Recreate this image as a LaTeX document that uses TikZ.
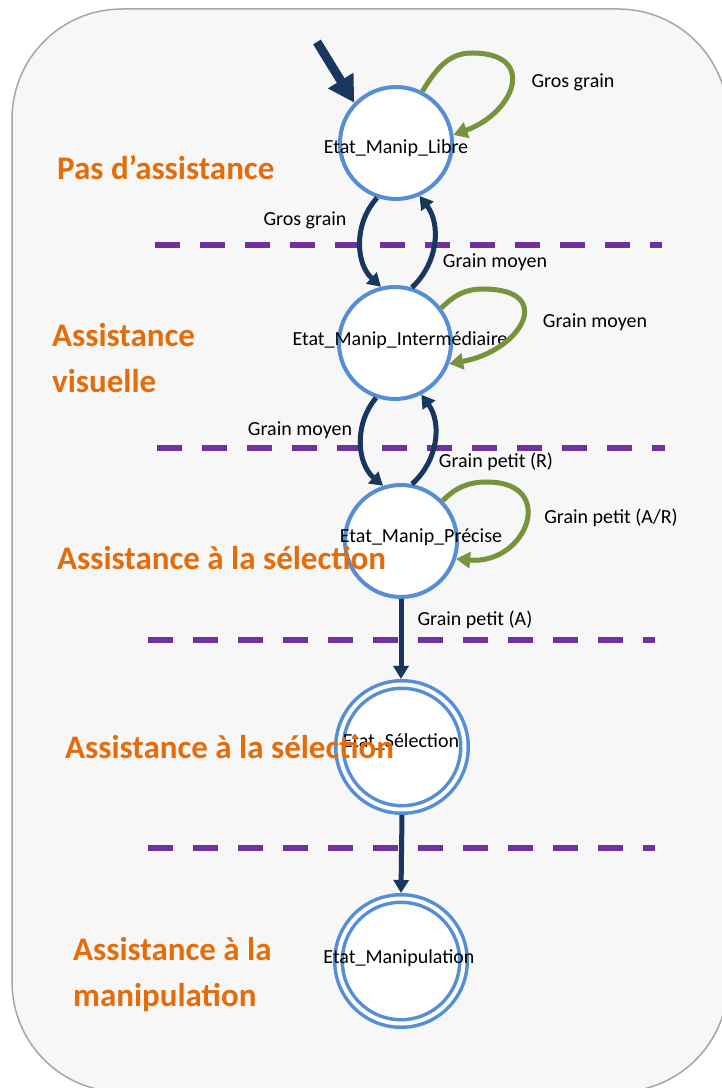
\documentclass[tikz,border=0pt]{standalone}
\usepackage{fontspec}
\setmainfont{Carlito}
\usetikzlibrary{arrows.meta}
\definecolor{fond}{HTML}{F7F7F7}
\definecolor{bordfond}{HTML}{A6A6A6}
\definecolor{bordetat}{HTML}{558ED5}
\definecolor{marine}{HTML}{17375E}
\definecolor{vert}{HTML}{77933C}
\definecolor{violet}{HTML}{7030A0}
\definecolor{orange}{HTML}{E46C0A}
\tikzset{
  etat/.style={circle,draw=bordetat,line width=4pt,fill=white,minimum size=112pt,inner sep=0pt},
  etatfinal/.style={etat,line width=3.5pt,double=white,double distance=4pt,minimum size=125pt,outer sep=5.5pt},
  trans/.style={draw=marine,line width=5pt,-{Triangle[length=13pt,width=15pt]}},
  initiale/.style={draw=marine,line width=9pt,-{Triangle[length=26pt,width=28pt]}},
  boucle/.style={draw=vert,line width=5pt,-{Triangle[length=14pt,width=16pt]}},
  niveau/.style={draw=violet,line width=6pt,dash pattern=on 25pt off 20pt},
  etiq/.style={font=\fontsize{20}{24}\selectfont,inner sep=0pt},
  zone/.style={font=\fontsize{33}{46}\selectfont\bfseries,text=orange,anchor=west,align=left,inner sep=0pt}
}
\begin{document}
\begin{tikzpicture}[x=1pt,y=1pt]
\useasboundingbox (0,0) rectangle (722,1088);
\draw[fill=fond,draw=bordfond,line width=1.5pt,rounded corners=110pt] (12,-4) rectangle (728,1079);

% niveaux d'assistance
\draw[niveau] (155,843) -- (662,843);
\draw[niveau] (157,640) -- (665,640);
\draw[niveau] (148,448) -- (655,448);
\draw[niveau] (148,240) -- (655,240);

% etats
\node[etat,label={[etiq,yshift=-5pt]center:Etat\_Manip\_Libre}] (libre) at (396,945) {};
\node[etat,label={[etiq,xshift=5pt,yshift=3pt]center:Etat\_Manip\_Intermédiaire}] (inter) at (395,745) {};
\node[etat,label={[etiq,xshift=20pt,yshift=4pt]center:Etat\_Manip\_Précise}] (precise) at (401,547) {};
\node[etatfinal,label={[etiq,xshift=-1pt,yshift=5pt]center:Etat\_Sélection}] (selection) at (402,341) {};
\node[etatfinal,label={[etiq,xshift=-2pt,yshift=3pt]center:Etat\_Manipulation}] (manip) at (401,127) {};

% transitions
\coordinate (depart) at (317,1046);
\draw[initiale] (depart) -- (libre.136);
\draw[trans] (libre.251) to[bend right=45] (inter.104);
\draw[trans] (inter.73) to[bend right=42] (libre.294);
\draw[trans] (inter.251) to[bend right=45] (precise.108);
\draw[trans] (precise.79) to[bend right=42] (inter.297);
\draw[trans] (precise.south) -- (precise.south |- selection.north);
\draw[trans] (selection.south) -- (manip.north);

\draw[boucle] (libre.63) to[out=58,in=180] (472,1035) to[out=0,in=20,looseness=2] (libre.8);
\draw[boucle] (inter.37) to[out=45,in=180] (483,799) to[out=0,in=10,looseness=2.3] (inter.339);
\draw[boucle] (precise.44) to[out=45,in=180] (487,606) to[out=0,in=-5,looseness=2.2] (precise.342);

\node[etiq] (l1) at (573,1006) {Gros grain};
\node[etiq] (l2) at (305,868) {Gros grain};
\node[etiq] (l3) at (495,826) {Grain moyen};
\node[etiq] (l4) at (595,766) {Grain moyen};
\node[etiq] (l5) at (300,658) {Grain moyen};
\node[etiq] (l6) at (496,626) {Grain petit (R)};
\node[etiq] (l7) at (611,570) {Grain petit (A/R)};
\node[etiq] (l8) at (475,468) {Grain petit (A)};

% zones
\node[zone] (z1) at (57,920) {Pas d’assistance};
\node[zone] (z2) at (52,730) {Assistance\\visuelle};
\node[zone] (z3) at (57,530) {Assistance à la sélection};
\node[zone] (z4) at (65,341) {Assistance à la sélection};
\node[zone] (z5) at (73,113) {Assistance à la\\manipulation};
\end{tikzpicture}
\end{document}
